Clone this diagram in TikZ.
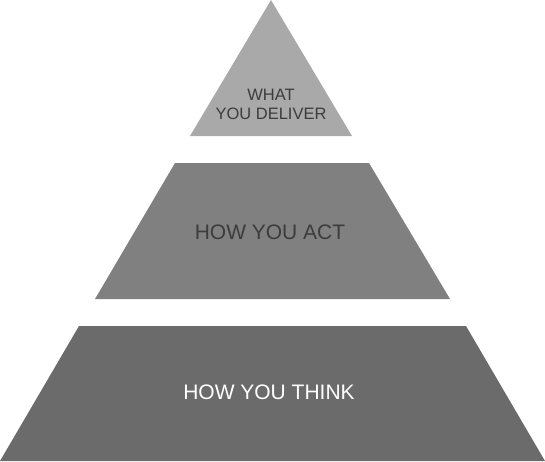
\documentclass[tikz,border=0pt]{standalone}
\usepackage{fontspec}
\setmainfont{Liberation Sans}
\usetikzlibrary{positioning}
\definecolor{topGray}{HTML}{A9A9A9}
\definecolor{midGray}{HTML}{808080}
\definecolor{lowGray}{HTML}{6B6B6B}
\definecolor{darkText}{HTML}{3C3C3C}
\tikzset{%
    base/.style = {
        text centered, inner sep=0pt, font=\fontsize{21}{25}\selectfont
    },
    topLabel/.style = {base, text=darkText, align=center,
        font=\fontsize{16.5}{19}\selectfont},
    midLabel/.style = {base, text=darkText},
    lowLabel/.style = {base, text=white},
}

\begin{document}
\begin{tikzpicture}[x=1pt, y=-1pt]
        \useasboundingbox (0,0) rectangle (545,461);
        % Layers
        \fill[topGray] (271,0) -- (352,136) -- (190,136) -- cycle;
        \fill[midGray] (175,163) -- (369,163) -- (450,299) -- (95,299) -- cycle;
        \fill[lowGray] (79,326) -- (466,326) -- (545,461) -- (0,461) -- cycle;

        % Nodes position
        \node (deliver) [topLabel] at (271,104)
                                {WHAT\\YOU DELIVER};
        \node (act)     [midLabel] at (270,232)
                                {HOW YOU ACT};
        \node (think)   [lowLabel] at (269,392)
                                {HOW YOU THINK};
    \end{tikzpicture}
\end{document}
